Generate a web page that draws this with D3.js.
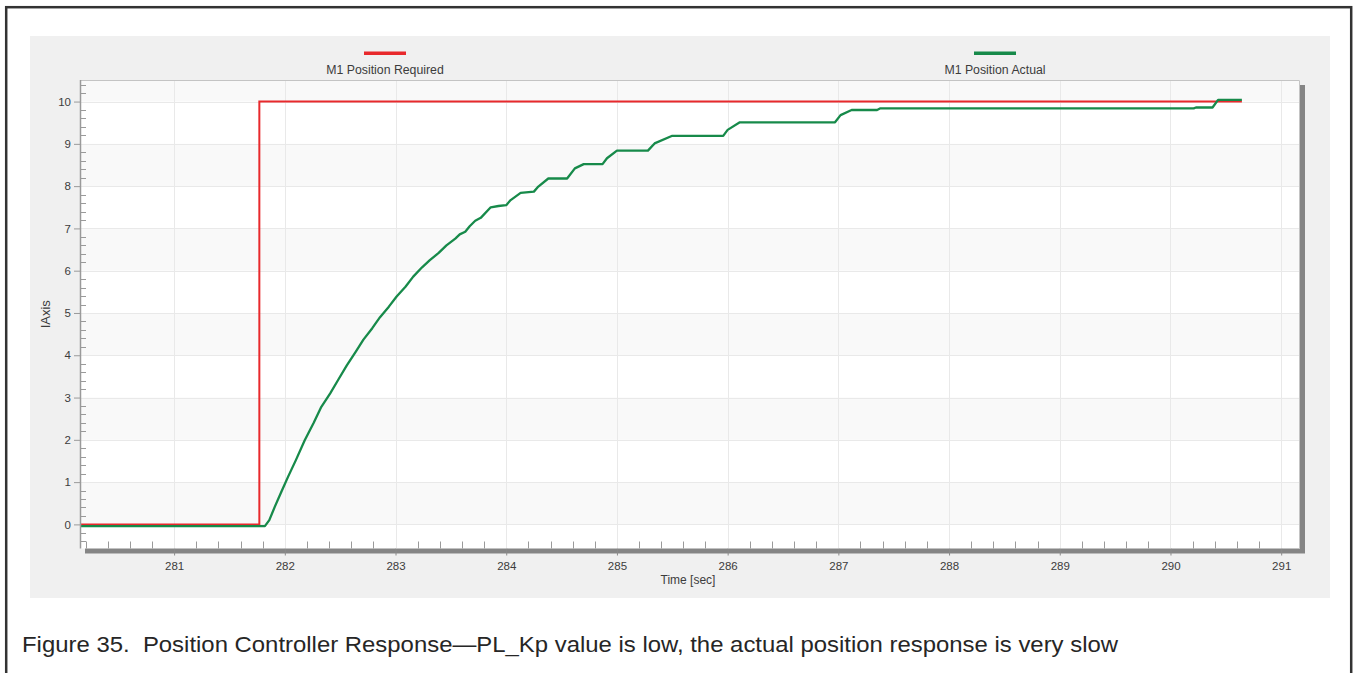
<!DOCTYPE html>
<html>
<head>
<meta charset="utf-8">
<script src="https://cdn.jsdelivr.net/npm/d3@7"></script>
<style>
  html, body { margin: 0; padding: 0; background: #fff; }
  svg { display: block; font-family: "Liberation Sans", Arial, sans-serif; }
</style>
</head>
<body>
<svg id="chart" width="1354" height="673"></svg>
<script>
// Series: position setpoint (step) and measured position, time in seconds
const seriesNames = ["M1 Position Required", "M1 Position Actual"];
const seriesColors = ["#e8292c", "#178a4a"];

const requiredTime  = [280.15, 281.77, 281.77, 290.645];
const requiredValue = [0, 0, 10, 10];

const actualTime = [
  280.15, 281.82, 281.86, 281.91, 281.97, 282.03, 282.10, 282.18, 282.26, 282.33,
  282.41, 282.48, 282.56, 282.64, 282.71, 282.79, 282.86, 282.94, 283.01, 283.09,
  283.16, 283.24, 283.31, 283.39, 283.46, 283.54, 283.58, 283.63, 283.67, 283.72,
  283.77, 283.86, 283.93, 284.00, 284.04, 284.13, 284.25, 284.29, 284.38, 284.55,
  284.62, 284.70, 284.87, 284.91, 285.00, 285.28, 285.34, 285.50, 285.96, 286.00,
  286.11, 286.97, 287.02, 287.12, 287.35, 287.38, 290.21, 290.23, 290.38, 290.43,
  290.645
];
const actualValue = [
  -0.04, -0.04, 0.10, 0.42, 0.78, 1.13, 1.52, 1.99, 2.40, 2.78,
  3.10, 3.41, 3.76, 4.08, 4.37, 4.64, 4.90, 5.15, 5.39, 5.62,
  5.86, 6.08, 6.25, 6.42, 6.60, 6.76, 6.86, 6.92, 7.05, 7.18,
  7.25, 7.50, 7.53, 7.55, 7.67, 7.84, 7.87, 7.99, 8.18, 8.18,
  8.42, 8.52, 8.52, 8.66, 8.84, 8.84, 9.01, 9.19, 9.19, 9.33,
  9.51, 9.51, 9.68, 9.80, 9.80, 9.84, 9.84, 9.86, 9.86, 10.04,
  10.04
];

const xTicks = [281, 282, 283, 284, 285, 286, 287, 288, 289, 290, 291];
const yTicks = [0, 1, 2, 3, 4, 5, 6, 7, 8, 9, 10];
const xDomain = [280.15, 291.17];
const yDomain = [-0.57, 10.51];

const xTitle = "Time [sec]";
const yTitle = "IAxis";
const caption = "Figure 35.  Position Controller Response\u2014PL_Kp value is low, the actual position response is very slow";

const svg = d3.select("#chart");

// Document frame and chart panel
svg.append("rect").attr("x", 6.2).attr("y", 7.2).attr("width", 1345).attr("height", 700)
  .attr("fill", "#fff").attr("stroke", "#333").attr("stroke-width", 2.5);
svg.append("rect").attr("x", 30).attr("y", 36).attr("width", 1300).attr("height", 562)
  .attr("fill", "#f0f0f0");

const plot = { left: 80, right: 1300, top: 80, bottom: 548.5 };
const x = d3.scaleLinear().domain(xDomain).range([plot.left, plot.right]);
const y = d3.scaleLinear().domain(yDomain).range([plot.bottom, plot.top]);

// Drop shadow and plot background
svg.append("rect").attr("x", plot.left + 5).attr("y", plot.top + 5)
  .attr("width", plot.right - plot.left).attr("height", plot.bottom - plot.top)
  .attr("fill", "#858585");
svg.append("rect").attr("x", plot.left).attr("y", plot.top)
  .attr("width", plot.right - plot.left).attr("height", plot.bottom - plot.top)
  .attr("fill", "#fff");

// Alternating horizontal bands
const bandStarts = [0, 2, 4, 6, 8, 10];
svg.append("g").selectAll("rect").data(bandStarts).join("rect")
  .attr("x", plot.left)
  .attr("width", plot.right - plot.left)
  .attr("y", d => y(Math.min(d + 1, yDomain[1])))
  .attr("height", d => y(d) - y(Math.min(d + 1, yDomain[1])))
  .attr("fill", "#f9f9f9");

// Grid lines
const grid = svg.append("g").attr("stroke", "#e9e9e9").attr("stroke-width", 1);
grid.selectAll(".gx").data(xTicks).join("line")
  .attr("x1", d => Math.round(x(d)) + 0.5).attr("x2", d => Math.round(x(d)) + 0.5)
  .attr("y1", plot.top).attr("y2", plot.bottom);
grid.selectAll(".gy").data(yTicks).join("line")
  .attr("y1", d => Math.round(y(d)) + 0.5).attr("y2", d => Math.round(y(d)) + 0.5)
  .attr("x1", plot.left).attr("x2", plot.right);

// Plot border (top / right)
svg.append("path")
  .attr("d", `M${plot.left},${plot.top + 0.5}H${plot.right - 0.5}V${plot.bottom}`)
  .attr("fill", "none").attr("stroke", "#c4c4c4").attr("stroke-width", 1);

// Series lines
const line = d3.line().x(d => x(d[0])).y(d => y(d[1]));
const requiredPts = requiredTime.map((t, i) => [t, requiredValue[i]]);
const actualPts = actualTime.map((t, i) => [t, actualValue[i]]);

svg.append("path").datum(requiredPts).attr("d", line)
  .attr("fill", "none").attr("stroke", seriesColors[0]).attr("stroke-width", 2);
svg.append("path").datum(actualPts).attr("d", line)
  .attr("fill", "none").attr("stroke", seriesColors[1]).attr("stroke-width", 2.3)
  .attr("stroke-linejoin", "round");

// Y axis
const axisColor = "#9a9a9a";
const labelColor = "#3c3c3c";
const yMinor = d3.range(-0.4, 10.5, 0.2).filter(v => Math.abs(v - Math.round(v)) > 1e-6);
const yAx = svg.append("g").attr("transform", `translate(${plot.left},0)`);
yAx.call(d3.axisLeft(y).tickValues(yTicks).tickSize(6).tickPadding(3).tickFormat(d3.format("d")));
yAx.select(".domain").attr("stroke", axisColor).attr("stroke-width", 1.5)
  .attr("d", `M0.5,${plot.top}V${plot.bottom}`);
yAx.selectAll(".tick line").attr("stroke", axisColor).attr("x1", 0);
yAx.selectAll(".tick text").attr("fill", labelColor).style("font-size", "11.5px");
yAx.selectAll(".minor").data(yMinor).join("line").attr("class", "minor")
  .attr("x1", 0).attr("x2", 6)
  .attr("y1", d => Math.round(y(d)) + 0.5).attr("y2", d => Math.round(y(d)) + 0.5)
  .attr("stroke", axisColor);

// X axis
const xMinor = d3.range(280.2, 291.1, 0.2).filter(v => Math.abs(v - Math.round(v)) > 1e-6);
const xAx = svg.append("g").attr("transform", `translate(0,${plot.bottom})`);
xAx.call(d3.axisBottom(x).tickValues(xTicks).tickSize(7).tickPadding(6).tickFormat(d3.format("d")));
xAx.select(".domain").remove();
xAx.selectAll(".tick line").attr("stroke", "#8a8a8a");
xAx.selectAll(".tick text").attr("fill", labelColor).style("font-size", "11.5px");
xAx.selectAll(".minor").data(xMinor).join("line").attr("class", "minor")
  .attr("x1", d => Math.round(x(d)) + 0.5).attr("x2", d => Math.round(x(d)) + 0.5)
  .attr("y1", -7).attr("y2", 0)
  .attr("stroke", axisColor);

// Axis titles
svg.append("text").attr("x", 688).attr("y", 584).attr("text-anchor", "middle")
  .attr("fill", labelColor).style("font-size", "12px").text(xTitle);
svg.append("text").attr("transform", `translate(50,${(plot.top + plot.bottom) / 2}) rotate(-90)`)
  .attr("text-anchor", "middle").attr("fill", labelColor).style("font-size", "13px").text(yTitle);

// Legend, items centred at 1/4 and 3/4 of the plot width
const legendX = [plot.left + (plot.right - plot.left) * 0.25, plot.left + (plot.right - plot.left) * 0.75];
const legend = svg.append("g").selectAll("g").data(seriesNames).join("g")
  .attr("transform", (d, i) => `translate(${legendX[i]},0)`);
legend.append("rect").attr("x", -21).attr("y", 51.5).attr("width", 42).attr("height", 3.5)
  .attr("fill", (d, i) => seriesColors[i]);
legend.append("text").attr("y", 74).attr("text-anchor", "middle")
  .attr("fill", labelColor).style("font-size", "12.3px").text(d => d);

// Caption
svg.append("text").attr("x", 22).attr("y", 652)
  .attr("xml:space", "preserve").style("white-space", "pre")
  .attr("textLength", 1096).attr("lengthAdjust", "spacingAndGlyphs")
  .attr("fill", "#262626").style("font-size", "22px").text(caption);
</script>
</body>
</html>
